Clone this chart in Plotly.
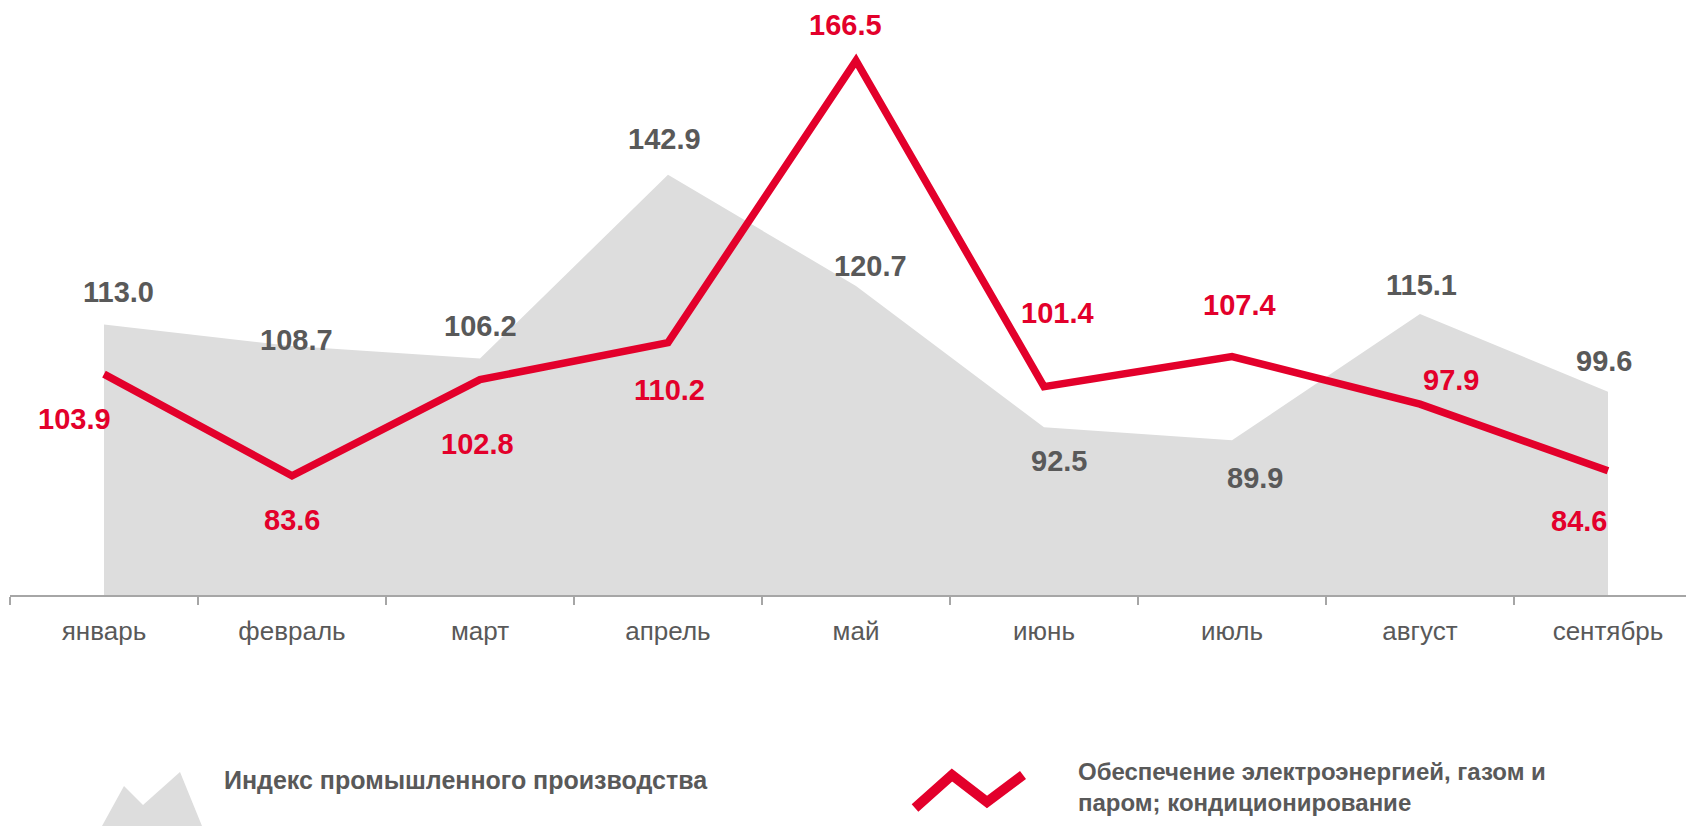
import plotly.graph_objects as go

# ---- data ----
months = ["январь", "февраль", "март", "апрель", "май", "июнь", "июль", "август", "сентябрь"]
industry = [113.0, 108.7, 106.2, 142.9, 120.7, 92.5, 89.9, 115.1, 99.6]
energy = [103.9, 83.6, 102.8, 110.2, 166.5, 101.4, 107.4, 97.9, 84.6]
legend_industry = "Индекс промышленного производства"
legend_energy = "Обеспечение электроэнергией, газом и<br>паром; кондиционирование"

# ---- style ----
W, H = 1686, 826
ML, MT, MB = 10, 0, 231
RED = "#E3002B"
GRAY_FILL = "#DDDDDD"
TXT = "#595959"
FONT = "Liberation Sans, Arial, sans-serif"

# label pixel offsets (xshift, yshift)
gray_off = [(14, 33), (4, 6), (1, 33), (-3, 36), (15, 20), (15, -34), (23, -38), (2, 29), (-4, 31)]
red_off = [(-30, -45), (0, -44), (-2, -64), (2, -47), (-10, 36), (14, 74), (8, 52), (31, 24), (-29, -50)]

fig = go.Figure()
fig.add_trace(go.Scatter(
    x=months, y=industry, mode="lines", fill="tozeroy", yaxis="y",
    fillcolor=GRAY_FILL, line=dict(width=0, color=GRAY_FILL),
    hoverinfo="skip", showlegend=False,
))
fig.add_trace(go.Scatter(
    x=months, y=energy, mode="lines", yaxis="y2",
    line=dict(width=7.5, color=RED, shape="linear"),
    hoverinfo="skip", showlegend=False,
))

ann = []
for i, m in enumerate(months):
    ann.append(dict(x=m, y=industry[i], xref="x", yref="y", text=f"{industry[i]:.1f}",
                    showarrow=False, xshift=gray_off[i][0], yshift=gray_off[i][1],
                    font=dict(family=FONT, size=29, color=TXT, weight="bold")))
    ann.append(dict(x=m, y=energy[i], xref="x", yref="y2", text=f"{energy[i]:.1f}",
                    showarrow=False, xshift=red_off[i][0], yshift=red_off[i][1],
                    font=dict(family=FONT, size=29, color=RED, weight="bold")))

pw = W - ML
ph = H - MT - MB


def px(x):
    return (x - ML) / pw


def py(y):
    return (H - MB - y) / ph


# legend texts
ann.append(dict(x=px(222), y=py(780), xref="paper", yref="paper", text=legend_industry,
                showarrow=False, xanchor="left", yanchor="middle", align="left",
                font=dict(family=FONT, size=25, color=TXT, weight="bold")))
ann.append(dict(x=px(1076), y=py(787), xref="paper", yref="paper", text=legend_energy,
                showarrow=False, xanchor="left", yanchor="middle", align="left",
                font=dict(family=FONT, size=24, color=TXT, weight="bold")))

# legend icons
area_pts = [(102, 826), (124, 786), (143, 805), (180, 772), (202, 826)]
area_path = "M " + " L ".join(f"{px(a)},{py(b)}" for a, b in area_pts) + " Z"
zig_pts = [(915, 808), (952, 775), (987, 802), (1023, 775)]
zig_path = "M " + " L ".join(f"{px(a)},{py(b)}" for a, b in zig_pts)
shapes = [
    dict(type="path", path=area_path, xref="paper", yref="paper",
         fillcolor=GRAY_FILL, line=dict(width=0)),
    dict(type="path", path=zig_path, xref="paper", yref="paper",
         line=dict(color=RED, width=10)),
]

fig.update_layout(
    width=W, height=H,
    margin=dict(l=ML, r=0, t=MT, b=MB),
    paper_bgcolor="white", plot_bgcolor="white",
    showlegend=False,
    annotations=ann,
    shapes=shapes,
    xaxis=dict(
        type="category", range=[-0.5, 8.415], tickson="boundaries",
        ticks="outside", ticklen=8, tickcolor="#A6A6A6", tickwidth=1.5,
        showline=True, linecolor="#A6A6A6", linewidth=1.5,
        showgrid=False, zeroline=False, ticklabelstandoff=12,
        tickfont=dict(family=FONT, size=26, color=TXT),
    ),
    yaxis=dict(range=[59.0, 177.8], visible=False, showgrid=False, zeroline=False),
    yaxis2=dict(range=[59.8, 178.6], visible=False, showgrid=False, zeroline=False,
                overlaying="y"),
)

fig.write_html(
    "out.html",
    config={"displayModeBar": False},
    post_script="document.body.style.margin='0';document.body.style.padding='0';"
                "document.body.style.overflow='hidden';",
)
